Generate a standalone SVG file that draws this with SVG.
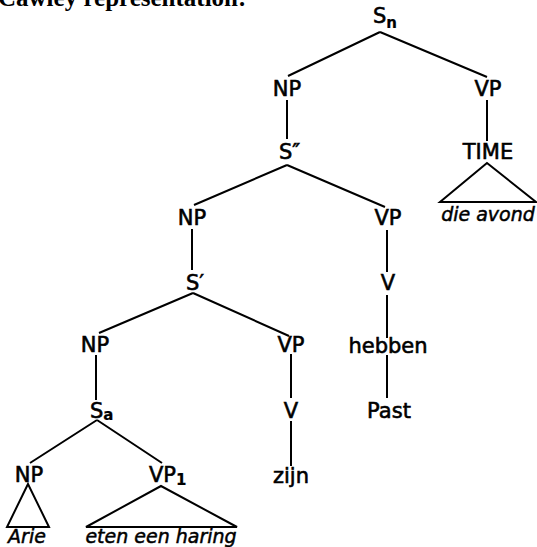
<svg xmlns="http://www.w3.org/2000/svg" width="537" height="547" viewBox="0 0 537 547">
<style>
.lbl{font-family:"DejaVu Sans","Liberation Sans",sans-serif;font-size:21px;fill:#000;stroke:#000;stroke-width:0.6;text-anchor:middle}
.st{text-anchor:start}
.sub{font-size:15px;font-weight:bold;stroke-width:0.2}
.it{font-family:"DejaVu Sans","Liberation Sans",sans-serif;font-size:19px;font-style:italic;fill:#000;stroke:#000;stroke-width:0.5;text-anchor:middle}
.head{font-family:"Liberation Serif",serif;font-size:25px;font-weight:bold;fill:#000}
.edge{stroke:#000;stroke-width:2;fill:none;stroke-linejoin:miter}
</style>
<rect width="537" height="547" fill="#fff"/>
<text class="head" x="-2" y="6">Cawley representation:</text>
<g id="connectors">
<path class="edge" d="M380 32 L288 76 M380 32 L487 77"/>
<path class="edge" d="M287 100 V139 M487 100 V141"/>
<path class="edge" d="M287 165 L194 205 M287 165 L385 207"/>
<path class="edge" d="M487 163 L440 202 H536 Z"/>
<path class="edge" d="M192 229 V270 M387 230 V272"/>
<path class="edge" d="M193 293 L99 333 M193 293 L289 336"/>
<path class="edge" d="M387 295 V338"/>
<path class="edge" d="M96 355 V400 M291 354 V398 M387 355 V398"/>
<path class="edge" d="M97 420 L30 463 M97 420 L162 463"/>
<path class="edge" d="M291 421 V466"/>
<path class="edge" d="M28 484 L7 527 H49 Z"/>
<path class="edge" d="M161 486 L86 527 H237 Z"/>
</g>
<g id="Sn"><text class="lbl st" x="373" y="23">S<tspan class="sub" dy="5">n</tspan></text></g>
<g id="NP1"><text class="lbl" x="287" y="96">NP</text></g>
<g id="VP1"><text class="lbl" x="488" y="96">VP</text></g>
<g id="S2"><text class="lbl st" x="279" y="159">S″</text></g>
<g id="TIME"><text class="lbl" x="488" y="159">TIME</text></g>
<g id="dieavond"><text class="it" x="488" y="221">die avond</text></g>
<g id="NP2"><text class="lbl" x="192" y="225">NP</text></g>
<g id="VP2"><text class="lbl" x="388" y="225">VP</text></g>
<g id="S1"><text class="lbl st" x="186" y="290">S′</text></g>
<g id="V1"><text class="lbl" x="388" y="290">V</text></g>
<g id="NP3"><text class="lbl" x="95" y="352">NP</text></g>
<g id="VP3"><text class="lbl" x="291" y="352">VP</text></g>
<g id="hebben"><text class="lbl" x="388" y="353">hebben</text></g>
<g id="Sa"><text class="lbl st" x="90" y="418">S<tspan class="sub" font-size="13" dy="2">a</tspan></text></g>
<g id="V2"><text class="lbl" x="291" y="418">V</text></g>
<g id="Past"><text class="lbl" x="389" y="418">Past</text></g>
<g id="NP4"><text class="lbl" x="29" y="482">NP</text></g>
<g id="VP4"><text class="lbl st" x="149" y="482">VP<tspan class="sub" font-size="14" dy="3">1</tspan></text></g>
<g id="zijn"><text class="lbl" x="291" y="483">zijn</text></g>
<g id="Arie"><text class="it" x="27" y="543">Arie</text></g>
<g id="eten"><text class="it" x="161" y="543">eten een haring</text></g>
</svg>
